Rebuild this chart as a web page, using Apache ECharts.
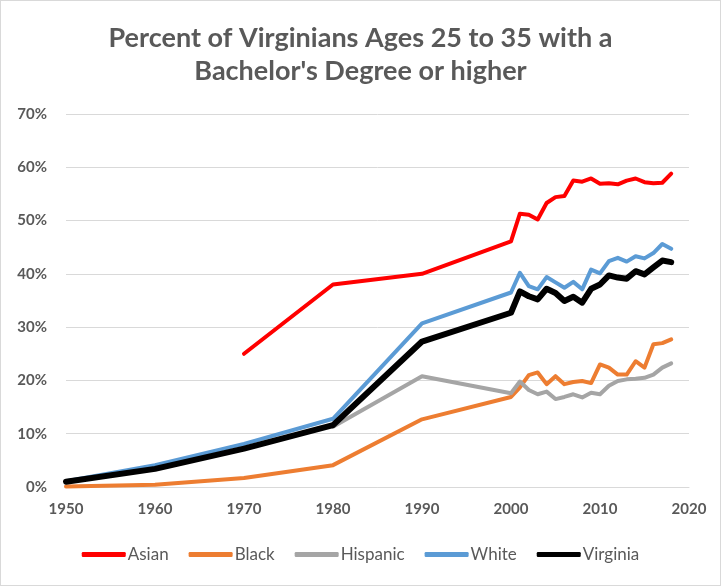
<!DOCTYPE html>
<html>
<head>
<meta charset="utf-8">
<script src="https://cdn.jsdelivr.net/npm/echarts@6/dist/echarts.min.js"></script>
<style>
  html, body { margin: 0; padding: 0; background: #fff; }
  #chart { width: 721px; height: 586px; box-sizing: border-box; border: 1px solid #D9D9D9; }
</style>
</head>
<body>
<div id="chart"></div>
<script>
const years = [1950, 1960, 1970, 1980, 1990,
  2000, 2001, 2002, 2003, 2004, 2005, 2006, 2007, 2008, 2009,
  2010, 2011, 2012, 2013, 2014, 2015, 2016, 2017, 2018];
const asian = [null, null, 25, 38, 40,
  46.1, 51.3, 51.1, 50.2, 53.3, 54.4, 54.6, 57.5, 57.3, 57.9,
  56.9, 57.0, 56.8, 57.5, 57.9, 57.2, 57.0, 57.1, 58.8];
const black = [0.1, 0.4, 1.7, 4.1, 12.7,
  16.9, 18.7, 21.0, 21.5, 19.3, 20.8, 19.3, 19.7, 19.9, 19.5,
  23.0, 22.4, 21.1, 21.1, 23.6, 22.4, 26.8, 27.0, 27.7];
const hispanic = [null, null, null, 11.3, 20.8,
  17.6, 19.8, 18.2, 17.4, 17.9, 16.5, 16.9, 17.4, 16.8, 17.7,
  17.4, 19.0, 19.9, 20.2, 20.3, 20.5, 21.1, 22.4, 23.2];
const white = [1.1, 4.1, 8.1, 12.8, 30.7,
  36.5, 40.2, 37.7, 37.1, 39.4, 38.4, 37.4, 38.5, 37.1, 40.8,
  40.1, 42.4, 43.0, 42.3, 43.3, 42.9, 43.9, 45.6, 44.7];
const virginia = [1.0, 3.4, 7.2, 11.6, 27.3,
  32.7, 36.7, 35.8, 35.2, 37.2, 36.4, 34.9, 35.7, 34.6, 37.2,
  38.0, 39.7, 39.3, 39.1, 40.5, 39.9, 41.2, 42.5, 42.2];
const seriesNames = ['Asian', 'Black', 'Hispanic', 'White', 'Virginia'];
const seriesColors = ['#FF0000', '#ED7D31', '#A5A5A5', '#5B9BD5', '#000000'];
const seriesWidths = [4, 4, 4, 4, 6];
const seriesValues = [asian, black, hispanic, white, virginia];

function pairs(vals) {
  const out = [];
  for (let i = 0; i < years.length; i++) {
    if (vals[i] !== null) out.push([years[i], vals[i]]);
  }
  return out;
}

const chart = echarts.init(document.getElementById('chart'));
chart.setOption({
  animation: false,
  title: {
    text: "Percent of Virginians Ages 25 to 35 with a\nBachelor's Degree or higher",
    left: 'center',
    top: 16,
    textStyle: {
      fontFamily: 'Lato', fontWeight: 'bold', fontSize: 27, color: '#595959', lineHeight: 33
    }
  },
  legend: {
    bottom: 17,
    left: 'center',
    itemWidth: 44,
    itemHeight: 5,
    itemGap: 20,
    icon: 'roundRect',
    textStyle: { fontFamily: 'Lato', fontSize: 17, color: '#595959', padding: [0, 0, 0, -3] },
    data: seriesNames
  },
  grid: { left: 65, right: 31, top: 113, bottom: 98, containLabel: false },
  xAxis: {
    type: 'value',
    min: 1950, max: 2020, interval: 10,
    axisLine: { show: true, lineStyle: { color: '#D9D9D9', width: 1 } },
    axisTick: { show: false },
    splitLine: { show: false },
    axisLabel: {
      fontFamily: 'Lato', fontWeight: 'bold', fontSize: 15, color: '#595959', margin: 15,
      formatter: v => String(v)
    }
  },
  yAxis: {
    type: 'value',
    min: 0, max: 70, interval: 10,
    axisLine: { show: false },
    axisTick: { show: false },
    splitLine: { show: true, lineStyle: { color: '#D9D9D9', width: 1 } },
    axisLabel: {
      fontFamily: 'Lato', fontWeight: 'bold', fontSize: 15, color: '#595959', margin: 19,
      formatter: '{value}%'
    }
  },
  series: seriesNames.map((name, i) => ({
    name: name,
    type: 'line',
    data: pairs(seriesValues[i]),
    showSymbol: false,
    symbol: 'none',
    color: seriesColors[i],
    lineStyle: { color: seriesColors[i], width: seriesWidths[i], cap: 'round', join: 'round' },
    z: 2 + i
  }))
});
</script>
</body>
</html>
